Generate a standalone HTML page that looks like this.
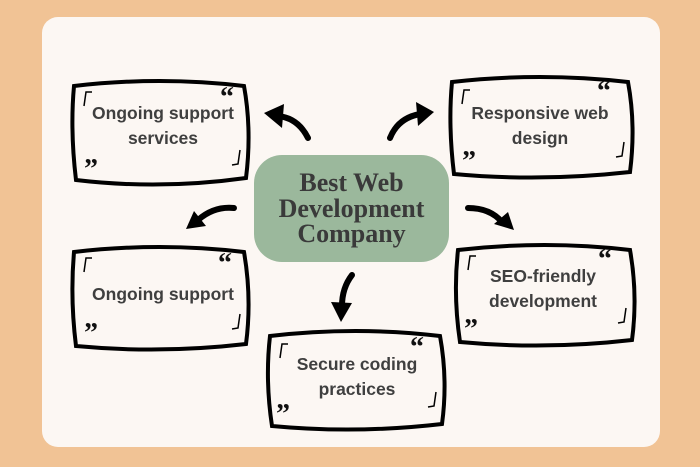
<!DOCTYPE html>
<html><head><style>
body{margin:0;width:700px;height:467px;background:#f1c395;overflow:hidden;position:relative;font-family:"Liberation Sans",sans-serif}
.panel{position:absolute;left:42px;top:17px;width:618px;height:430px;background:#fcf7f3;border-radius:16px}
.t{position:absolute;text-align:center;color:#3f3f3f;font-weight:bold;font-size:17.5px;line-height:25px}
.c{position:absolute;left:254px;top:155px;width:195px;height:107px;background:#9bb89c;border-radius:28px;display:flex;align-items:center;justify-content:center;text-align:center;font-family:"Liberation Serif",serif;font-weight:bold;font-size:26px;line-height:25.5px;color:#3a3a3a}
</style></head><body>
<div class="panel"></div>
<svg width="700" height="467" style="position:absolute;left:0;top:0">
<g fill="none" stroke="#000" stroke-width="4">
<path d="M74 86 Q160 76 244 86 Q252 130 246 178 Q160 190 76 180 Q70 130 74 86Z"/>
<path d="M452 82 Q540 72 628 82 Q636 125 630 172 Q540 182 454 174 Q448 125 452 82Z"/>
<path d="M74 252 Q160 242 244 252 Q252 298 246 344 Q160 354 76 346 Q70 298 74 252Z"/>
<path d="M458 250 Q545 240 630 250 Q638 295 632 340 Q545 350 460 342 Q453 295 458 250Z"/>
<path d="M270 336 Q356 326 440 336 Q448 380 442 424 Q356 434 272 426 Q265 380 270 336Z"/>
</g>
<g fill="none" stroke="#000" stroke-width="1.5">
<path d="M92 92 L86 92 L84 106"/><path d="M240 150 L238 164 L232 165"/>
<path d="M470 90 L464 90 L462 104"/><path d="M624 142 L622 156 L616 157"/>
<path d="M92 258 L86 258 L84 272"/><path d="M240 314 L238 328 L232 329"/>
<path d="M476 256 L470 256 L468 270"/><path d="M626 308 L624 322 L618 323"/>
<path d="M288 344 L282 344 L280 358"/><path d="M436 392 L434 406 L428 407"/>
</g>
<g fill="#111" font-family="Liberation Serif" font-weight="bold" font-size="28">
<text x="220" y="106">“</text><text x="84" y="178">”</text>
<text x="597" y="100">“</text><text x="462" y="170">”</text>
<text x="218" y="272">“</text><text x="84" y="342">”</text>
<text x="598" y="268">“</text><text x="464" y="338">”</text>
<text x="410" y="356">“</text><text x="276" y="423">”</text>
</g>
<g fill="none" stroke="#000" stroke-width="6" stroke-linecap="round">
<path d="M308 138 Q298 118 278 116"/>
<path d="M390 138 Q398 118 420 114"/>
<path d="M234 208 Q214 206 198 220"/>
<path d="M468 208 Q490 208 502 222"/>
<path d="M352 275 Q342 288 342 306"/>
</g>
<g fill="#000">
<polygon points="264,113 284,104 282,128"/>
<polygon points="434,112 416,102 418,126"/>
<polygon points="186,229 194,211 206,226"/>
<polygon points="514,230 494,224 508,212"/>
<polygon points="341,322 331,302 352,303"/>
</g>
</svg>
<div class="t" style="left:73px;top:101px;width:180px">Ongoing support<br>services</div>
<div class="t" style="left:450px;top:101px;width:180px">Responsive web<br>design</div>
<div class="t" style="left:73px;top:282px;width:180px">Ongoing support</div>
<div class="t" style="left:453px;top:264px;width:180px">SEO-friendly<br>development</div>
<div class="t" style="left:267px;top:352px;width:180px">Secure coding<br>practices</div>
<div class="c">Best Web<br>Development<br>Company</div>
</body></html>
